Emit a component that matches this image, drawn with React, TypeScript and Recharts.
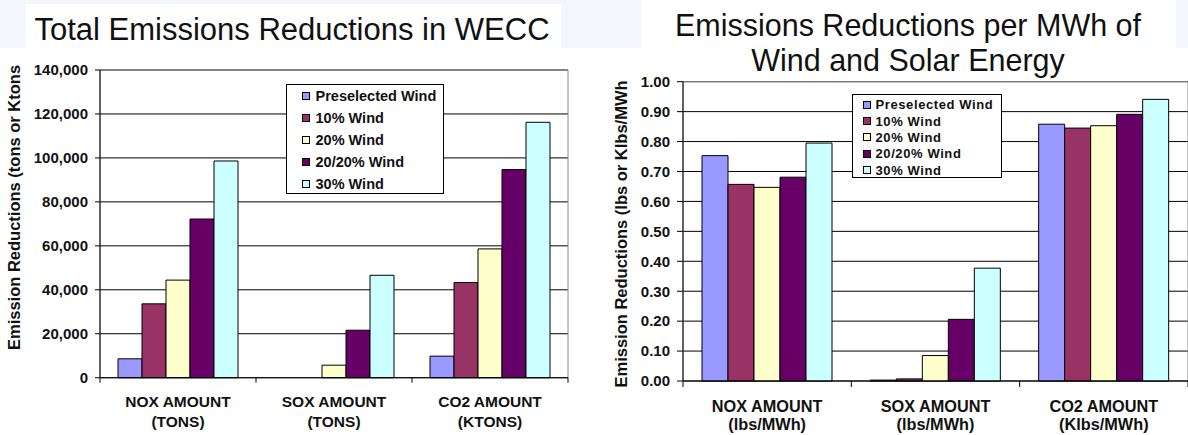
import React from 'react';
import { BarChart, Bar, XAxis, YAxis, CartesianGrid, Legend, ReferenceArea } from 'recharts';

const categories = ['NOX AMOUNT', 'SOX AMOUNT', 'CO2 AMOUNT'];
const totalUnits = ['(TONS)', '(TONS)', '(KTONS)'];
const perMwhUnits = ['(lbs/MWh)', '(lbs/MWh)', '(Klbs/MWh)'];

const seriesNames = ['Preselected Wind', '10% Wind', '20% Wind', '20/20% Wind', '30% Wind'];
const seriesColors = ['#9999ff', '#993366', '#ffffcc', '#660066', '#ccffff'];

// total reductions in WECC (tons, ktons for CO2)
const totalPreselected = [8600, 0, 9800];
const total10 = [33600, 0, 43300];
const total20 = [44400, 5700, 58600];
const total2020 = [72200, 21600, 94700];
const total30 = [98600, 46600, 116200];
const totalTicks = [0, 20000, 40000, 60000, 80000, 100000, 120000, 140000];

// reductions per MWh of wind and solar energy
const perPreselected = [0.753, 0.003, 0.858];
const per10 = [0.657, 0.007, 0.845];
const per20 = [0.647, 0.085, 0.853];
const per2020 = [0.681, 0.206, 0.891];
const per30 = [0.795, 0.377, 0.941];
const perTicks = [0, 0.1, 0.2, 0.3, 0.4, 0.5, 0.6, 0.7, 0.8, 0.9, 1.0];

const buildRows = (series: number[][]) =>
  categories.map((category, i) => {
    const row: any = { category };
    series.forEach((values, s) => {
      row['s' + s] = values[i];
    });
    return row;
  });

const totalData = buildRows([totalPreselected, total10, total20, total2020, total30]);
const perData = buildRows([perPreselected, per10, per20, per2020, per30]);

const FONT = '"Liberation Sans", Arial, Helvetica, sans-serif';

// two-line category label, with tick marks at the category boundaries
const CategoryTick = (props: any) => {
  const { x, y, payload, units, band, tickLen, labelSize, line1, line2 } = props;
  const idx = payload.index;
  const left = x - band / 2;
  return (
    <g>
      <line x1={left} x2={left} y1={y} y2={y + tickLen} stroke="#000" />
      {idx === categories.length - 1 && (
        <line x1={left + band} x2={left + band} y1={y} y2={y + tickLen} stroke="#000" />
      )}
      <text x={x} y={y + line1} textAnchor="middle" fontSize={labelSize} fontWeight="bold" fill="#111">
        {payload.value}
      </text>
      <text x={x} y={y + line2} textAnchor="middle" fontSize={labelSize} fontWeight="bold" fill="#111">
        {units[idx]}
      </text>
    </g>
  );
};

const AxisTitle = ({ text, cx, cy, size }: any) => (
  <text
    x={cx}
    y={cy}
    transform={`rotate(-90 ${cx} ${cy})`}
    textAnchor="middle"
    dominantBaseline="central"
    fontSize={size}
    fontWeight="bold"
    fill="#111"
  >
    {text}
  </text>
);

const LegendBox = ({ width, height, rowHeight, padTop, padLeft, marker, gap, fontSize, spacing }: any) => (
  <div
    style={{
      width,
      height,
      boxSizing: 'border-box',
      border: '1px solid #000',
      background: '#fff',
      paddingTop: padTop,
      paddingLeft: padLeft,
      fontFamily: FONT,
    }}
  >
    {seriesNames.map((name, i) => (
      <div key={name} style={{ display: 'flex', alignItems: 'center', height: rowHeight }}>
        <span
          style={{
            width: marker,
            height: marker,
            boxSizing: 'border-box',
            border: '1px solid #000',
            background: seriesColors[i],
            marginRight: gap,
          }}
        />
        <span style={{ fontSize, fontWeight: 'bold', color: '#111', letterSpacing: spacing, whiteSpace: 'nowrap' }}>
          {name}
        </span>
      </div>
    ))}
  </div>
);

const bars = () =>
  seriesNames.map((name, i) => (
    <Bar
      key={name}
      dataKey={'s' + i}
      name={name}
      fill={seriesColors[i]}
      stroke="#000"
      strokeWidth={1}
      isAnimationActive={false}
    />
  ));

const TotalChart = () => {
  const band = (580 - 12 - 100) / 3;
  return (
    <BarChart
      width={580}
      height={435}
      data={totalData}
      margin={{ top: 70, right: 12, bottom: 0, left: 0 }}
      barSize={24}
      barGap={0}
    >
      <CartesianGrid vertical={false} stroke="#000" />
      <ReferenceArea y1={0} y2={140000} fill="none" stroke="#888" strokeWidth={1} />
      <XAxis
        dataKey="category"
        height={57.3}
        interval={0}
        tickLine={false}
        tickSize={0}
        tickMargin={0}
        axisLine={{ stroke: '#000' }}
        tick={(p: any) => (
          <CategoryTick {...p} units={totalUnits} band={band} tickLen={5} labelSize={15.5} line1={29} line2={49.5} />
        )}
      />
      <YAxis
        width={100}
        domain={[0, 140000]}
        ticks={totalTicks}
        interval={0}
        tickSize={5}
        tickMargin={7}
        axisLine={{ stroke: '#000' }}
        tickLine={{ stroke: '#000' }}
        tick={{ fontSize: 15, fontWeight: 'bold', fill: '#111' }}
        tickFormatter={(v: number) => v.toLocaleString('en-US')}
        label={{
          content: () => <AxisTitle text="Emission Reductions (tons or Ktons" cx={14} cy={207.5} size={16.5} />,
        }}
      />
      <Legend
        layout="vertical"
        align="center"
        verticalAlign="middle"
        width={158}
        height={110}
        wrapperStyle={{ left: 286, top: 84, width: 158, height: 110 }}
        content={() => (
          <LegendBox
            width={158}
            height={110}
            rowHeight={21.9}
            padTop={0}
            padLeft={15}
            marker={8}
            gap={5.5}
            fontSize={14.5}
            spacing={0}
          />
        )}
      />
      {bars()}
    </BarChart>
  );
};

const PerMwhChart = () => {
  const band = (598 - 93) / 3;
  return (
    <BarChart
      width={598}
      height={435}
      data={perData}
      margin={{ top: 81.7, right: 0, bottom: 0, left: 0 }}
      barSize={26}
      barGap={0}
    >
      <CartesianGrid vertical={false} stroke="#000" />
      <ReferenceArea y1={0} y2={1} fill="none" stroke="#888" strokeWidth={1} />
      <XAxis
        dataKey="category"
        height={54}
        interval={0}
        tickLine={false}
        tickSize={0}
        tickMargin={0}
        axisLine={{ stroke: '#000' }}
        tick={(p: any) => (
          <CategoryTick {...p} units={perMwhUnits} band={band} tickLen={6} labelSize={16.3} line1={30.7} line2={49} />
        )}
      />
      <YAxis
        width={93}
        domain={[0, 1]}
        ticks={perTicks}
        interval={0}
        tickSize={6}
        tickMargin={7}
        axisLine={{ stroke: '#000' }}
        tickLine={{ stroke: '#000' }}
        tick={{ fontSize: 15, fontWeight: 'bold', fill: '#111' }}
        tickFormatter={(v: number) => v.toFixed(2)}
        label={{
          content: () => <AxisTitle text="Emission Reductions (lbs or Klbs/MWh" cx={31} cy={234} size={16.5} />,
        }}
      />
      <Legend
        layout="vertical"
        align="center"
        verticalAlign="middle"
        width={150}
        height={84}
        wrapperStyle={{ left: 262, top: 94, width: 150, height: 84 }}
        content={() => (
          <LegendBox
            width={150}
            height={84}
            rowHeight={16.35}
            padTop={1.5}
            padLeft={10}
            marker={8}
            gap={4.5}
            fontSize={13}
            spacing={0.6}
          />
        )}
      />
      {bars()}
    </BarChart>
  );
};

export default function App() {
  return (
    <div
      style={{
        position: 'absolute',
        left: 0,
        top: 0,
        width: 1188,
        height: 435,
        overflow: 'hidden',
        background: '#fff',
        fontFamily: FONT,
      }}
    >
      <svg width={1188} height={435} style={{ position: 'absolute', left: 0, top: 0 }}>
        <rect x={0} y={0} width={1188} height={48} fill="#f3f6fa" />
        <rect x={26} y={4} width={535} height={44} fill="#fff" />
        <rect x={641} y={0} width={535} height={48} fill="#fff" />
        <text x={292} y={39.5} textAnchor="middle" fontSize={31} fill="#111">
          Total Emissions Reductions in WECC
        </text>
        <text x={908} y={36} textAnchor="middle" fontSize={30.5} fill="#111">
          Emissions Reductions per MWh of
        </text>
        <text x={908} y={71} textAnchor="middle" fontSize={30.5} fill="#111">
          Wind and Solar Energy
        </text>
      </svg>
      <div style={{ position: 'absolute', left: 0, top: 0 }}>
        <TotalChart />
      </div>
      <div style={{ position: 'absolute', left: 590, top: 0 }}>
        <PerMwhChart />
      </div>
    </div>
  );
}
